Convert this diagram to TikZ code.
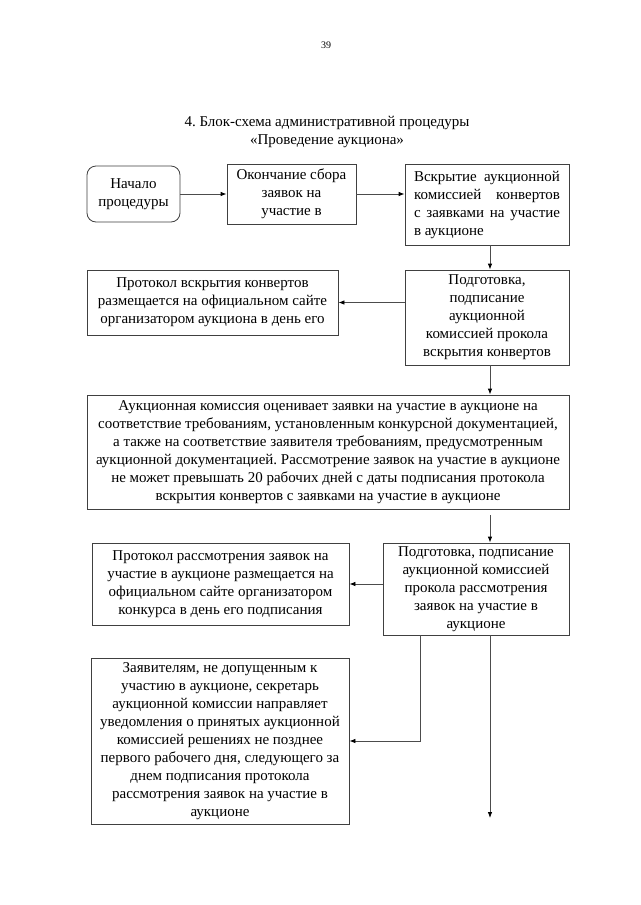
\documentclass[tikz,border=0pt]{standalone}
\usepackage{fontspec}
\setmainfont{Liberation Serif}
\usetikzlibrary{arrows.meta,calc}
\frenchspacing
\begin{document}
\begin{tikzpicture}[x=1pt,y=-1pt,
  box/.style={draw=black!75, line width=0.8pt, inner sep=0pt, align=center,
    font=\fontsize{15}{18}\selectfont},
  arr/.style={draw=black!70, line width=0.8pt, -{Latex[length=6pt,width=4.5pt,color=black]}},
  ln/.style={draw=black!70, line width=0.8pt}]
\useasboundingbox[fill=white] (0,0) rectangle (640,905);
\node[font=\fontsize{10}{12}\selectfont] (pg) at (326,45) {39};
\node[font=\fontsize{15}{18}\selectfont, align=center] (t) at (327,132)
  {4. Блок-схема административной процедуры\\«Проведение аукциона»};
\node[box, rounded corners=9pt, minimum width=93pt, minimum height=56pt] (b1) at (133.5,194) {Начало\\процедуры};
\node[box, minimum width=129pt, minimum height=60pt] (b2) at (291.5,194) {Окончание сбора\\заявок на\\участие в};
\node[box, minimum width=164pt, minimum height=81pt, text width=146pt, align=justify] (b3) at (487,204.5)
  {Вскрытие аукционной комиссией конвертов с~заявками на участие в~аукционе};
\node[box, minimum width=164pt, minimum height=95pt] (b4) at (487,317.5)
  {Подготовка,\\подписание\\аукционной\\комиссией прокола\\вскрытия конвертов};
\node[box, minimum width=251pt, minimum height=65pt] (b5) at (212.5,302.5)
  {Протокол вскрытия конвертов\\размещается на официальном сайте\\организатором аукциона в день его};
\node[box, minimum width=482pt, minimum height=114pt] (b6) at (328,452)
  {Аукционная комиссия оценивает заявки на участие в аукционе на\\
   соответствие требованиям, установленным конкурсной документацией,\\
   а также на соответствие заявителя требованиям, предусмотренным\\
   аукционной документацией. Рассмотрение заявок на участие в аукционе\\
   не может превышать 20 рабочих дней с даты подписания протокола\\
   вскрытия конвертов с заявками на участие в аукционе};
\node[box, minimum width=186pt, minimum height=92pt] (b7) at (476,589)
  {Подготовка, подписание\\аукционной комиссией\\прокола рассмотрения\\заявок на участие в\\аукционе};
\node[box, minimum width=257pt, minimum height=82pt] (b8) at (220.5,584)
  {Протокол рассмотрения заявок на\\участие в аукционе размещается на\\официальном сайте организатором\\конкурса в день его подписания};
\node[box, minimum width=258pt, minimum height=166pt] (b9) at (220,741)
  {Заявителям, не допущенным к\\участию в аукционе, секретарь\\аукционной комиссии направляет\\уведомления о принятых аукционной\\комиссией решениях не позднее\\первого рабочего дня, следующего за\\днем подписания протокола\\рассмотрения заявок на участие в\\аукционе};
\coordinate (xr) at (490,0);
\coordinate (xl) at (420,0);
\coordinate (g1) at (490,515);
\coordinate (e1) at (490,818);
\draw[arr] (b1.east) -- (b1.east -| b2.west);
\draw[arr] (b2.east) -- (b2.east -| b3.west);
\draw[arr] (b3.south -| xr) -- (b4.north -| xr);
\draw[arr] (b4.west |- b5.east) -- (b5.east);
\draw[arr] (b4.south -| xr) -- (b6.north -| xr);
\draw[arr] (g1) -- (b7.north -| xr);
\draw[arr] (b7.west |- b8.east) -- (b8.east);
\draw[arr] (b7.south -| xl) |- (b9.east);
\draw[arr] (b7.south -| xr) -- (e1);
\end{tikzpicture}
\end{document}
